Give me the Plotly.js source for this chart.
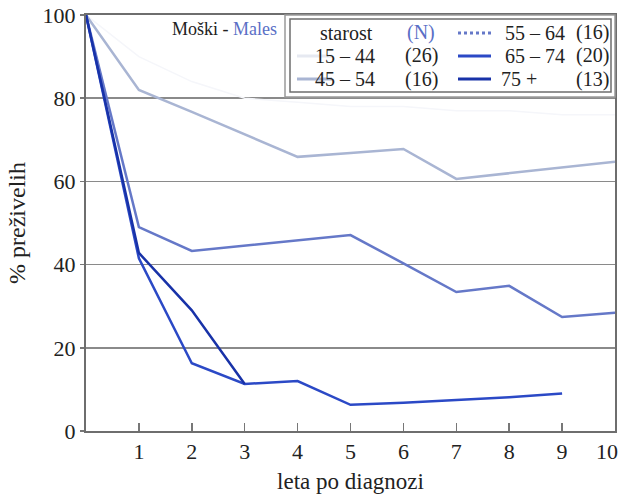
<!DOCTYPE html>
<html>
<head>
<meta charset="utf-8">
<script src="https://cdn.plot.ly/plotly-3.0.1.min.js"></script>
<style>html,body{margin:0;padding:0;background:#fff;}#chart{width:624px;height:494px;}</style>
</head>
<body>
<div id="chart"></div>
<script>
// ---- data ----
const years = [0, 1, 2, 3, 4, 5, 6, 7, 8, 9, 10];
const ageGroups = ["15 – 44", "45 – 54", "55 – 64", "65 – 74", "75 +"];
const groupN = ["(26)", "(16)", "(16)", "(20)", "(13)"];
const surv15_44 = [100, 90, 84, 80, 79, 78, 78, 77, 77, 76, 76];
const surv45_54 = [100, 82, 76.7, 71.3, 65.9, 66.8, 67.8, 60.6, 62, 63.4, 64.7];
const surv55_64 = [100, 49, 43.3, 44.6, 45.9, 47.1, 40.3, 33.4, 34.9, 27.4, 28.4];
const surv65_74 = [100, 41.5, 16.3, 11.3, 12, 6.3, 6.8, 7.4, 8.1, 9];
const surv75 = [100, 42.8, 29, 11.3];
const xTicks = [1, 2, 3, 4, 5, 6, 7, 8, 9, 10];
const yTicks = [0, 20, 40, 60, 80, 100];

const series = [surv15_44, surv45_54, surv55_64, surv65_74, surv75];
const colors = ["#f5f6fa", "#a9b5d3", "#6578c8", "#2b49c6", "#1832a8"];
const widths = [1.5, 2.5, 2.5, 2.5, 2.5];

const traces = series.map((s, i) => ({
  x: years.slice(0, s.length), y: s, mode: "lines", type: "scatter",
  name: ageGroups[i], showlegend: false, hoverinfo: "skip",
  line: {color: colors[i], width: widths[i]}
}));

// pixel helpers for decorations
const L = 86, R = 615, T = 15, B = 431;
const px = x => (x - L) / (R - L);
const py = y => (B - y) / (B - T);
const font = "Liberation Serif";
const fs = 22;
const lfs = 20;

const shapes = [
  {type: "rect", xref: "paper", yref: "paper", x0: px(285), x1: px(615), y0: py(97), y1: py(15), line: {color: "#9a9a9a", width: 1.5}, fillcolor: "#fff"},
  {type: "rect", xref: "paper", yref: "paper", x0: px(290), x1: px(611), y0: py(92), y1: py(19), line: {color: "#6e6e6e", width: 1.5}}
];
const annotations = [
  {xref: "paper", yref: "paper", x: px(279), y: py(29), xanchor: "right", yanchor: "middle", showarrow: false,
   text: 'Moški - <span style="color:#5a6fc6">Males</span>', font: {family: font, size: 18, color: "#222"}},
  {xref: "paper", yref: "paper", x: px(346), y: py(33), xanchor: "center", yanchor: "middle", showarrow: false,
   text: "starost", font: {family: font, size: lfs, color: "#222"}},
  {xref: "paper", yref: "paper", x: px(421), y: py(33), xanchor: "center", yanchor: "middle", showarrow: false,
   text: "(N)", font: {family: font, size: lfs, color: "#5a6fc6"}},
  {xref: "x", yref: "paper", x: xTicks[xTicks.length - 1], y: 0, xanchor: "center", yanchor: "top", xshift: -8, yshift: -6,
   showarrow: false, text: String(xTicks[xTicks.length - 1]), font: {family: font, size: fs, color: "#222"}}
];
// legend rows
const rowY = [56, 79, 33, 56, 79];
const sampleX = [[297, 332], [297, 332], [458, 491], [458, 491], [458, 491]];
const labelX = [345, 345, 535, 535, 519];
const nX = [421, 421, 592, 592, 592];
ageGroups.forEach((g, i) => {
  shapes.push({type: "line", xref: "paper", yref: "paper", x0: px(sampleX[i][0]), x1: px(sampleX[i][1]),
    y0: py(rowY[i]), y1: py(rowY[i]), line: {color: i === 0 ? "#e6e9f1" : colors[i], width: 3, dash: i === 2 ? "dot" : "solid"}});
  annotations.push({xref: "paper", yref: "paper", x: px(labelX[i]), y: py(rowY[i]), xanchor: "center",
    yanchor: "middle", showarrow: false, text: g, font: {family: font, size: lfs, color: "#222"}});
  annotations.push({xref: "paper", yref: "paper", x: px(nX[i]), y: py(rowY[i]), xanchor: "center",
    yanchor: "middle", showarrow: false, text: groupN[i], font: {family: font, size: lfs, color: "#222"}});
});

const layout = {
  width: 624, height: 494,
  margin: {l: L, r: 624 - R, t: T, b: 494 - B},
  paper_bgcolor: "#fff", plot_bgcolor: "#fff",
  font: {family: font, size: fs, color: "#222"},
  xaxis: {
    range: [0, 10], tickvals: xTicks.slice(0, -1), ticktext: xTicks.slice(0, -1).map(String),
    ticks: "inside", ticklen: 8, tickwidth: 1.5, tickcolor: "#777",
    showgrid: false, zeroline: false, showline: true, linecolor: "#6e6e6e", linewidth: 2, mirror: true,
    tickfont: {family: font, size: fs, color: "#222"},
    title: {text: "leta po diagnozi", font: {family: font, size: 23, color: "#222"}, standoff: 14}
  },
  yaxis: {
    range: [0, 100], tickvals: yTicks, ticktext: yTicks.map(String),
    ticks: "outside", ticklen: 4, tickwidth: 1.5, tickcolor: "#777",
    showgrid: true, gridcolor: "#8a8a8a", gridwidth: 1.5, zeroline: false,
    showline: true, linecolor: "#6e6e6e", linewidth: 2, mirror: true,
    tickfont: {family: font, size: fs, color: "#222"},
    title: {text: "% preživelih", font: {family: font, size: 24, color: "#222"}, standoff: 10}
  },
  shapes: shapes, annotations: annotations, showlegend: false
};

Plotly.newPlot("chart", traces, layout, {staticPlot: true, displayModeBar: false});
</script>
</body>
</html>
